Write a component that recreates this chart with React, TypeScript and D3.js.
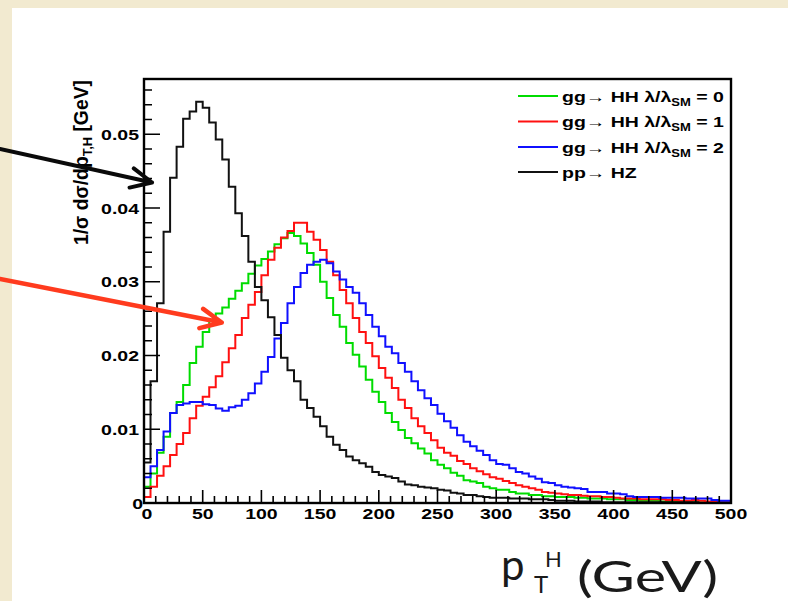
import React from "react";
import * as d3 from "d3";

// ---------------- data ----------------
const X_MIN = 0;
const X_MAX = 500;
const N_BINS = 90;
const Y_MAX = 0.0575;

const xMajorTicks = [0, 50, 100, 150, 200, 250, 300, 350, 400, 450, 500];
const xTickLabels = ["0", "50", "100", "150", "200", "250", "300", "350", "400", "450", "500"];
const yMajorTicks = [0, 0.01, 0.02, 0.03, 0.04, 0.05];
const yTickLabels = ["0", "0.01", "0.02", "0.03", "0.04", "0.05"];

// gg -> HH, lambda/lambda_SM = 0
const ggHH_l0 = [
  0.0022, 0.0040, 0.0068, 0.0090, 0.0122, 0.0137, 0.0160, 0.0190, 0.0212, 0.0232,
  0.0248, 0.0257, 0.0265, 0.0277, 0.0288, 0.0298, 0.0311, 0.0322, 0.0331, 0.0341,
  0.0351, 0.0359, 0.0366, 0.0362, 0.0352, 0.0339, 0.0323, 0.0300, 0.0278, 0.0255,
  0.0239, 0.0217, 0.0201, 0.0185, 0.0167, 0.0151, 0.0137, 0.0122, 0.0110, 0.0099,
  0.0088, 0.0081, 0.0074, 0.0067, 0.0058, 0.0052, 0.0047, 0.0041, 0.0037, 0.0031,
  0.0029, 0.0027, 0.0022, 0.0020, 0.0018, 0.0018, 0.0015, 0.0013, 0.0013, 0.0011,
  0.0011, 0.0009, 0.0009, 0.0008, 0.0008, 0.0008, 0.0007, 0.0007, 0.0006, 0.0006,
  0.0006, 0.0005, 0.0005, 0.0005, 0.0004, 0.0004, 0.0003, 0.0003, 0.0003, 0.0002,
  0.0002, 0.0002, 0.0002, 0.0002, 0.0001, 0.0001, 0.0001, 0.0001, 0.0001, 0.0001,
];
// gg -> HH, lambda/lambda_SM = 1
const ggHH_l1 = [
  0.0008, 0.0022, 0.0037, 0.0050, 0.0065, 0.0080, 0.0095, 0.0115, 0.0132, 0.0144,
  0.0157, 0.0172, 0.0191, 0.0210, 0.0228, 0.0251, 0.0269, 0.0286, 0.0309, 0.0330,
  0.0346, 0.0360, 0.0369, 0.0380, 0.0380, 0.0368, 0.0357, 0.0343, 0.0327, 0.0309,
  0.0289, 0.0271, 0.0251, 0.0232, 0.0217, 0.0199, 0.0183, 0.0170, 0.0156, 0.0140,
  0.0129, 0.0115, 0.0104, 0.0095, 0.0085, 0.0075, 0.0068, 0.0064, 0.0057, 0.0053,
  0.0047, 0.0043, 0.0039, 0.0035, 0.0033, 0.0030, 0.0027, 0.0024, 0.0022, 0.0020,
  0.0018, 0.0015, 0.0014, 0.0013, 0.0012, 0.0011, 0.0011, 0.0010, 0.0009, 0.0009,
  0.0008, 0.0008, 0.0007, 0.0006, 0.0006, 0.0006, 0.0005, 0.0005, 0.0005, 0.0005,
  0.0004, 0.0004, 0.0003, 0.0003, 0.0004, 0.0003, 0.0002, 0.0002, 0.0001, 0.0001,
];
// gg -> HH, lambda/lambda_SM = 2
const ggHH_l2 = [
  0.0035, 0.0050, 0.0072, 0.0097, 0.0122, 0.0133, 0.0135, 0.0137, 0.0137, 0.0134,
  0.0133, 0.0128, 0.0125, 0.0130, 0.0132, 0.0140, 0.0149, 0.0162, 0.0178, 0.0198,
  0.0223, 0.0244, 0.0271, 0.0293, 0.0312, 0.0323, 0.0327, 0.0330, 0.0325, 0.0314,
  0.0303, 0.0293, 0.0285, 0.0271, 0.0255, 0.0239, 0.0226, 0.0212, 0.0203, 0.0190,
  0.0178, 0.0165, 0.0153, 0.0142, 0.0133, 0.0121, 0.0111, 0.0102, 0.0092, 0.0083,
  0.0077, 0.0071, 0.0065, 0.0058, 0.0053, 0.0052, 0.0047, 0.0042, 0.0040, 0.0036,
  0.0033, 0.0028, 0.0027, 0.0024, 0.0022, 0.0021, 0.0020, 0.0019, 0.0015, 0.0015,
  0.0015, 0.0013, 0.0013, 0.0012, 0.0009, 0.0008, 0.0008, 0.0008, 0.0008, 0.0007,
  0.0007, 0.0007, 0.0007, 0.0006, 0.0006, 0.0006, 0.0006, 0.0004, 0.0003, 0.0003,
];
// pp -> HZ
const ppHZ = [
  0.0055, 0.0165, 0.0271, 0.0368, 0.0441, 0.0483, 0.0521, 0.0531, 0.0544, 0.0536,
  0.0516, 0.0493, 0.0466, 0.0429, 0.0393, 0.0362, 0.0327, 0.0293, 0.0275, 0.0252,
  0.0228, 0.0197, 0.0180, 0.0165, 0.0140, 0.0129, 0.0117, 0.0104, 0.0090, 0.0079,
  0.0072, 0.0063, 0.0058, 0.0054, 0.0049, 0.0042, 0.0038, 0.0036, 0.0034, 0.0029,
  0.0025, 0.0024, 0.0022, 0.0021, 0.0020, 0.0018, 0.0017, 0.0014, 0.0013, 0.0011,
  0.0011, 0.0009, 0.0008, 0.0007, 0.0007, 0.0007, 0.0006, 0.0006, 0.0006, 0.0005,
  0.0005, 0.0005, 0.0004, 0.0003, 0.0003, 0.0003, 0.0002, 0.0002, 0.0002, 0.0002,
  0.0001, 0.0001, 0.0001, 0.0001, 0.0001, 0.0001, 0.0001, 0.0001, 0.0001, 0.0001,
  0.0001, 0.0001, 0.0001, 0.0001, 0.0001, 0, 0, 0, 0, 0,
];

const legendPrefix = ["gg\u2192 HH \u03bb/\u03bb", "gg\u2192 HH \u03bb/\u03bb", "gg\u2192 HH \u03bb/\u03bb", "pp\u2192 HZ"];
const legendSub = ["SM", "SM", "SM", ""];
const legendSuffix = [" = 0", " = 1", " = 2", ""];

// ---------------- styles ----------------
const W = 788;
const H = 601;
const FRAME = { left: 144, right: 731, top: 79, bottom: 503 };
const COLORS = ["#00dc00", "#ff1010", "#1010ff", "#111111"];
const SERIES = [ggHH_l0, ggHH_l1, ggHH_l2, ppHZ];
const LEGEND_ORDER = [0, 1, 2, 3];
const DRAW_ORDER = [0, 1, 2, 3];
const LAB_FONT = "'Liberation Sans', Arial, Helvetica, sans-serif";
const SX = 1.3; // horizontal stretch of the original plot

const x = d3.scaleLinear().domain([X_MIN, X_MAX]).range([FRAME.left, FRAME.right]);
const y = d3.scaleLinear().domain([0, Y_MAX]).range([FRAME.bottom, FRAME.top]);
const binW = (X_MAX - X_MIN) / N_BINS;

const line = d3
  .line<[number, number]>()
  .x((d) => x(d[0]))
  .y((d) => y(d[1]));

function histPoints(vals: number[]): [number, number][] {
  const pts: [number, number][] = [[X_MIN, 0]];
  vals.forEach((v, i) => {
    pts.push([X_MIN + i * binW, v]);
    pts.push([X_MIN + (i + 1) * binW, v]);
  });
  pts.push([X_MAX, 0]);
  return pts;
}

function SText(props: {
  x: number;
  y: number;
  anchor?: string;
  size?: number;
  sx?: number;
  children: React.ReactNode;
}) {
  const { x: tx, y: ty, anchor = "start", size = 15, sx = SX, children } = props;
  return (
    <text
      transform={`translate(${tx},${ty}) scale(${sx},1)`}
      textAnchor={anchor as any}
      fontSize={size}
      fontWeight="bold"
      fontFamily={LAB_FONT}
      fill="#000"
    >
      {children}
    </text>
  );
}

function arrowPath(x1: number, y1: number, x2: number, y2: number, len: number, ang: number) {
  const th = Math.atan2(y2 - y1, x2 - x1);
  const a1 = [x2 - len * Math.cos(th + ang), y2 - len * Math.sin(th + ang)];
  const a2 = [x2 - len * Math.cos(th - ang), y2 - len * Math.sin(th - ang)];
  return `M${x1},${y1}L${x2},${y2}M${a1[0]},${a1[1]}L${x2},${y2}L${a2[0]},${a2[1]}`;
}

export default function App() {
  const xMinor = d3.range(0, 51).map((i) => i * 10);
  const yMinor = d3.range(0, 29).map((i) => i * 0.002).filter((v) => v <= Y_MAX);

  const tickPath: string[] = [];
  xMinor.forEach((v) => {
    const major = v % 50 === 0;
    const px = x(v);
    tickPath.push(`M${px},${FRAME.bottom}V${FRAME.bottom - (major ? 13 : 7)}`);
  });
  yMinor.forEach((v, i) => {
    const major = i % 5 === 0;
    const py = y(v);
    tickPath.push(`M${FRAME.left},${py}H${FRAME.left + (major ? 16 : 8)}`);
  });

  const legendRows = [96, 121.5, 147, 172];

  return (
    <svg
      width={W}
      height={H}
      viewBox={`0 0 ${W} ${H}`}
      style={{ position: "absolute", left: 0, top: 0, display: "block" }}
    >
      <rect x={0} y={0} width={W} height={H} fill="#f2ead0" />
      <rect x={12} y={8} width={W - 12} height={H - 8} fill="#ffffff" />

      {/* histograms */}
      {DRAW_ORDER.map((si) => (
        <path
          key={"h" + si}
          d={line(histPoints(SERIES[si])) || ""}
          fill="none"
          stroke={COLORS[si]}
          strokeWidth={2}
          strokeLinejoin="miter"
        />
      ))}

      {/* ticks */}
      <path d={tickPath.join("")} stroke="#000" strokeWidth={1.6} fill="none" />

      {/* frame */}
      <rect
        x={FRAME.left}
        y={FRAME.top}
        width={FRAME.right - FRAME.left}
        height={FRAME.bottom - FRAME.top}
        fill="none"
        stroke="#000"
        strokeWidth={2.4}
      />

      {/* y tick labels */}
      {yMajorTicks.map((v, i) =>
        i === 0 ? (
          <SText key={"yl" + i} x={143} y={y(v) + 6} anchor="end">
            {yTickLabels[i]}
          </SText>
        ) : (
          <SText key={"yl" + i} x={139} y={y(v) + 5.5} anchor="end">
            {yTickLabels[i]}
          </SText>
        )
      )}
      {/* x tick labels */}
      {xMajorTicks.map((v, i) => (
        <SText key={"xl" + i} x={x(v) + (i === 0 ? 3 : 0)} y={519} anchor="middle">
          {xTickLabels[i]}
        </SText>
      ))}

      {/* y axis title */}
      <text
        transform={`translate(88,245) scale(${SX},1) rotate(-90)`}
        fontSize={15}
        fontWeight="bold"
        fontFamily={LAB_FONT}
        textLength={165}
        lengthAdjust="spacingAndGlyphs"
        fill="#000"
      >
        1/σ dσ/dp
        <tspan fontSize={10} dy={3}>
          T,H
        </tspan>
        <tspan dy={-3}> [GeV]</tspan>
      </text>

      {/* legend */}
      {LEGEND_ORDER.map((si, r) => (
        <g key={"lg" + si}>
          <line x1={518} x2={558} y1={legendRows[r]} y2={legendRows[r]} stroke={COLORS[si]} strokeWidth={2} />
          <SText x={562} y={legendRows[r] + 5.5}>
            {legendPrefix[si]}
            {legendSub[si] ? (
              <>
                <tspan fontSize={10} dy={4}>
                  {legendSub[si]}
                </tspan>
                <tspan dy={-4}>{legendSuffix[si]}</tspan>
              </>
            ) : null}
          </SText>
        </g>
      ))}

      {/* x axis title (slide text) */}
      <g fontFamily="Lato, 'Open Sans', sans-serif" fill="#1a1a1a">
        <text x={501} y={580} fontSize={42}>
          p
        </text>
        <text x={534} y={593} fontSize={24}>
          T
        </text>
        <text x={545} y={567} fontSize={22}>
          H
        </text>
        <text x={577} y={592} fontSize={42} textLength={141} lengthAdjust="spacingAndGlyphs">
          (GeV)
        </text>
      </g>

      {/* annotation arrows */}
      <path
        d={arrowPath(0, 149, 152, 182.5, 23, 0.44)}
        stroke="#0a0a0a"
        strokeWidth={4}
        fill="none"
        strokeLinecap="round"
        strokeLinejoin="round"
      />
      <path
        d={arrowPath(0, 279, 221.7, 322.5, 23, 0.44)}
        stroke="#ff3b1e"
        strokeWidth={4.5}
        fill="none"
        strokeLinecap="round"
        strokeLinejoin="round"
      />
    </svg>
  );
}
